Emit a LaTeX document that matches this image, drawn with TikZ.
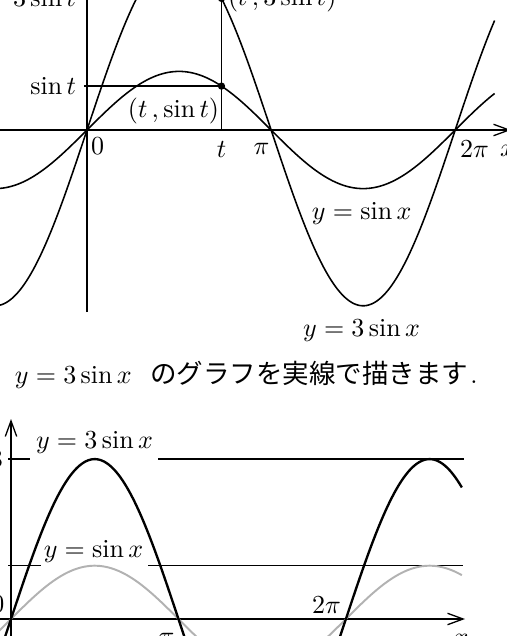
\documentclass[tikz,border=0pt]{standalone}
\usepackage{fontspec}
\newfontfamily\jpfont{Noto Sans CJK JP}
\usetikzlibrary{arrows.meta}
\tikzset{
  axisline/.style={line width=0.5pt},
  arr/.style={-{Straight Barb[length=6pt,width=4.4pt]}},
  curveA/.style={line width=0.6pt},
  curveB/.style={line width=0.9pt},
  curveG/.style={line width=0.75pt, color=black!30},
  guide/.style={line width=0.5pt},
  lbl/.style={inner sep=0pt, outer sep=0pt},
  dotnode/.style={circle, fill=black, inner sep=0pt, minimum size=2.8pt},
}
\begin{document}
\begin{tikzpicture}[x=0.3846pt, y=-0.3846pt]
\useasboundingbox (0,0) rectangle (507,636);
\clip (0,0) rectangle (507,636);
% ---------- top graph ----------
\coordinate (xs1) at (-5,130);
\coordinate (xe1) at (511,130);
\coordinate (ys1) at (87,312);
\coordinate (ye1) at (87,-20);
\draw[axisline,arr] (xs1) -- (xe1);
\draw[axisline] (ys1) -- (ye1);
\draw[curveA] plot[domain=-1.6:6.957, samples=240, variable=\u] ({87+58.6*\u},{130-58.6*sin(\u r)});
\draw[curveA] plot[domain=-1.6:6.957, samples=240, variable=\u] ({87+58.6*\u},{130-3*58.6*sin(\u r)});
\coordinate (Tx) at (221.5,130);
\coordinate (Ty) at (84,86.1);
\node[dotnode] (P1) at (221.5,86.1) {};
\node[dotnode] (P3) at (221.5,-1.6) {};
\draw[guide] (Ty) -- (P1.center);
\draw[guide] (Tx) -- (P3.center);
\node[lbl, anchor=east] (lsint) at (76,86.1) {$\sin t$};
\node[lbl, anchor=east] (l3sint) at (76,-1.6) {$3\sin t$};
\node[lbl] (lP1) at (173.5,110.5) {$(t\,,\sin t)$};
\node[lbl, anchor=west] (lP3) at (228,-1.2) {$(t\,,3\sin t)$};
\node[lbl] (l0a) at (97.5,146.5) {$0$};
\node[lbl] (lta) at (221.5,150) {$t$};
\node[lbl] (lpia) at (261.5,149) {$\pi$};
\node[lbl] (l2pia) at (474.5,149.5) {$2\pi$};
\node[lbl] (lxa) at (507.5,151) {$x$};
\node[lbl] (lsinx) at (361.7,213) {$y=\sin x$};
\node[lbl] (l3sinx) at (361.5,330) {$y=3\sin x$};
% ---------- caption ----------
\node[lbl, anchor=base west] (cap) at (15,383) {$y=3\sin x$\hspace{7pt}{\jpfont\fontsize{10.2pt}{12pt}\selectfont のグラフを実線で描きます}\hspace{0.8pt}.};
% ---------- bottom graph ----------
\coordinate (xs2) at (-5,619);
\coordinate (xe2) at (465,619);
\coordinate (ys2) at (11,645);
\coordinate (ye2) at (11,419);
\draw[axisline,arr] (xs2) -- (xe2);
\draw[axisline,arr] (ys2) -- (ye2);
\coordinate (h3a) at (8,459.1);  \coordinate (h3b) at (30,459.1);
\coordinate (h3c) at (158,459.1); \coordinate (h3d) at (464,459.1);
\coordinate (h1a) at (8,565.7);  \coordinate (h1b) at (41,565.7);
\coordinate (h1c) at (148,565.7); \coordinate (h1d) at (463,565.7);
\draw[guide] (h3a) -- (h3b);
\draw[guide] (h3c) -- (h3d);
\draw[guide] (h1a) -- (h1b);
\draw[guide] (h1c) -- (h1d);
\node[lbl] (lb3sinx) at (94.5,442.5) {$y=3\sin x$};
\node[lbl] (lbsinx) at (93.5,551) {$y=\sin x$};
\node[lbl] (lb3) at (-3.5,459) {$3$};
\node[lbl] (lb1) at (-4.5,566) {$1$};
\node[lbl] (lb0) at (-2.2,604.5) {$0$};
\node[lbl] (lb2pi) at (326.5,605) {$2\pi$};
\node[lbl] (lbpi) at (166.5,638.5) {$\pi$};
\node[lbl] (lbx) at (461,640) {$x$};
\draw[curveG] plot[domain=-0.6:8.46, samples=240, variable=\u] ({11+53.3*\u},{619-53.3*sin(\u r)});
\draw[curveB] plot[domain=-0.6:8.46, samples=240, variable=\u] ({11+53.3*\u},{619-3*53.3*sin(\u r)});
\end{tikzpicture}
\end{document}
